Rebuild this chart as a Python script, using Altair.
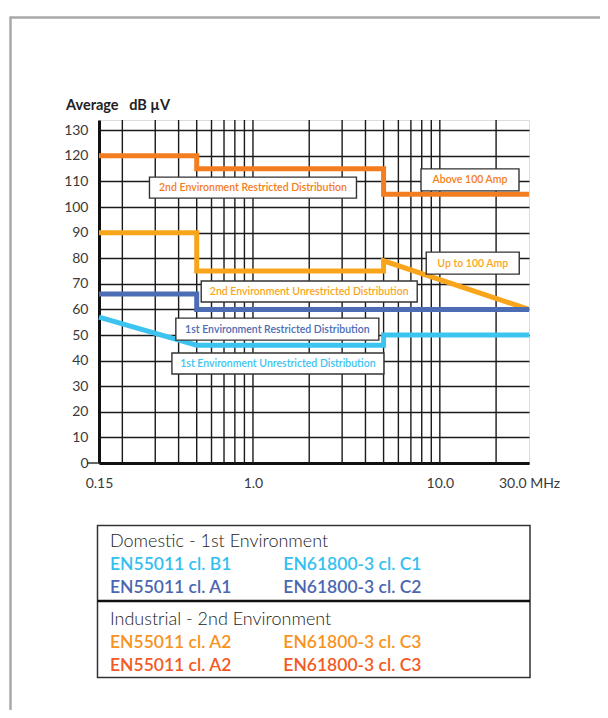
import altair as alt
import pandas as pd

# ---------------- data ----------------
series_names = ["2nd Env Restricted", "2nd Env Unrestricted", "1st Env Restricted", "1st Env Unrestricted"]
s1_freq = [0.15, 0.5, 0.5, 5.0, 5.0, 30.0]
s1_db = [120, 120, 115, 115, 105, 105]
s2_freq = [0.15, 0.5, 0.5, 5.0, 5.0, 30.0]
s2_db = [90, 90, 75, 75, 79, 60]
s3_freq = [0.15, 0.5, 0.5, 30.0]
s3_db = [66, 66, 60, 60]
s4_freq = [0.15, 0.5, 5.0, 5.0, 30.0]
s4_db = [57, 46, 46, 50, 50]
series_colors = ["#F47D20", "#F9A51B", "#4C6CB4", "#3DC3EF"]

x_tick_values = [0.15, 1.0, 10.0, 30.0]
y_tick_values = [0, 10, 20, 30, 40, 50, 60, 70, 80, 90, 100, 110, 120, 130]
x_grid_values = [0.2, 0.3, 0.4, 0.5, 0.6, 0.7, 0.8, 0.9, 1.0,
                 2, 3, 4, 5, 6, 7, 8, 9, 10, 20]

ann_text = ["2nd Environment Restricted Distribution", "Above 100 Amp", "Up to 100 Amp",
            "2nd Environment Unrestricted Distribution", "1st Environment Restricted Distribution",
            "1st Environment Unrestricted Distribution"]
ann_freq = [1.0, 14.5, 15.0, 2.0, 1.35, 1.36]
ann_db = [107.6, 110.6, 78.1, 67.0, 52.3, 38.9]
ann_color = ["#F47D20", "#F47D20", "#F9A51B", "#F9A51B", "#4C6CB4", "#3DC3EF"]

legend_head1 = "Domestic - 1st Environment"
legend_head2 = "Industrial - 2nd Environment"
legend_col1 = ["EN55011 cl. B1", "EN55011 cl. A1", "EN55011 cl. A2", "EN55011 cl. A2"]
legend_col2 = ["EN61800-3 cl. C1", "EN61800-3 cl. C2", "EN61800-3 cl. C3", "EN61800-3 cl. C3"]
legend_colors = ["#33BFF0", "#4A66B0", "#F7931E", "#F15A24"]

# ---------------- tables ----------------
rows = []
for name, fr, db in zip(series_names, [s1_freq, s2_freq, s3_freq, s4_freq], [s1_db, s2_db, s3_db, s4_db]):
    for i, (f, d) in enumerate(zip(fr, db)):
        rows.append({"series": name, "i": i, "freq": f, "db": d})
lines_df = pd.DataFrame(rows)
grid_df = pd.DataFrame({"freq": x_grid_values})
ann_df = pd.DataFrame({"text": ann_text, "freq": ann_freq, "db": ann_db, "color": ann_color})
one = grid_df.iloc[[0]]

W, H = 430, 343
FONT = "Lato"

xscale = alt.Scale(type="log", domain=[0.15, 30], nice=False)
yscale = alt.Scale(domain=[0, 134], nice=False)

xaxis = alt.Axis(values=x_tick_values, grid=False, ticks=False, domainWidth=3, domainColor="#111",
                 labelExpr="datum.value == 0.15 ? '0.15' : (datum.value == 30 ? '30.0 MHz' : format(datum.value, '.1f'))",
                 labelFont=FONT, labelFontSize=14, labelFontWeight="normal", labelColor="#3a3a3a",
                 labelPadding=13, title=None, labelFlush=False, labelOverlap=False)
yaxis = alt.Axis(values=y_tick_values, grid=True, gridColor="#1a1a1a", gridWidth=1.4, ticks=False,
                 domainWidth=3, domainColor="#111", labelFont=FONT, labelFontSize=14,
                 labelFontWeight="normal", labelColor="#3a3a3a",
                 labelPadding=11, title=None, labelFlush=False, labelOverlap=False)

X = alt.X("freq:Q", scale=xscale, axis=xaxis)
Y = alt.Y("db:Q", scale=yscale, axis=yaxis)

vgrid = alt.Chart(grid_df).mark_rule(color="#1a1a1a", strokeWidth=1.4).encode(x=X)

zero_tick = alt.Chart(one).mark_rule(color="#333", strokeWidth=1.5).encode(
    y=alt.datum(0, scale=yscale, axis=yaxis), x=alt.value(-12), x2=alt.value(0)
)

lines = alt.Chart(lines_df).mark_line(strokeWidth=5, strokeJoin="miter", strokeCap="butt").encode(
    x=X, y=Y,
    color=alt.Color("series:N", scale=alt.Scale(domain=series_names, range=series_colors), legend=None),
    order="i:Q",
)

box_w = [207, 98, 93, 216, 203, 212]
box_h = [21, 22, 22, 21, 22, 21]
ann_layers = []
for k in range(len(ann_text)):
    sub = ann_df.iloc[[k]]
    rect = alt.Chart(sub).mark_rect(fill="white", stroke="#333", strokeWidth=1.4,
                                    xOffset=-box_w[k] / 2, x2Offset=box_w[k] / 2,
                                    yOffset=-box_h[k] / 2, y2Offset=box_h[k] / 2).encode(
        x=X, x2="freq:Q", y=Y, y2="db:Q",
    )
    ann_layers.append(rect)
ann_texts = alt.Chart(ann_df).mark_text(font=FONT, fontSize=10.5, fontWeight=600, align="center",
                                        baseline="middle", dy=0.5).encode(
    x=X, y=Y, text="text:N", color=alt.Color("color:N", scale=None),
)

ytitle = alt.Chart(one).mark_text(font=FONT, fontSize=14.5, fontWeight="bold", align="left",
                                  baseline="alphabetic", color="#222").encode(
    x=alt.value(-33), y=alt.value(-10), text=alt.value("Average\u00a0\u00a0\u00a0dB µV")
)

# outer page frame (gray)
frame_top = alt.Chart(one).mark_rule(color="#A9A9AC", strokeWidth=2.5).encode(
    x=alt.value(-89), x2=alt.value(520), y=alt.value(-102.5)
)
frame_left = alt.Chart(one).mark_rule(color="#A9A9AC", strokeWidth=2.5).encode(
    x=alt.value(-88.5), y=alt.value(-103.5), y2=alt.value(600)
)

# legend box
leg_box = alt.Chart(one).mark_rect(fill="white", stroke="#333", strokeWidth=1.5).encode(
    x=alt.value(-1.5), x2=alt.value(431), y=alt.value(405.5), y2=alt.value(557.5)
)
leg_div = alt.Chart(one).mark_rule(color="#111", strokeWidth=2.5).encode(
    x=alt.value(-1.5), x2=alt.value(431), y=alt.value(481)
)
leg_heads = pd.DataFrame({"t": [legend_head1, legend_head2], "y": [427.3, 505]})
leg_head_txt = alt.Chart(leg_heads).mark_text(font=FONT, fontSize=18, fontWeight=300, align="left",
                                               baseline="alphabetic", color="#222").encode(
    x=alt.value(11), y=alt.Y("y:Q", scale=None), text="t:N"
)
leg_rows = pd.DataFrame({"c1": legend_col1, "c2": legend_col2, "color": legend_colors,
                         "y": [450, 472.7, 528.3, 550.7]})
leg_c1 = alt.Chart(leg_rows).mark_text(font=FONT, fontSize=17.5, fontWeight=600, align="left",
                                       baseline="alphabetic").encode(
    x=alt.value(11), y=alt.Y("y:Q", scale=None), text="c1:N", color=alt.Color("color:N", scale=None)
)
leg_c2 = alt.Chart(leg_rows).mark_text(font=FONT, fontSize=17.5, fontWeight=600, align="left",
                                       baseline="alphabetic").encode(
    x=alt.value(184.3), y=alt.Y("y:Q", scale=None), text="c2:N", color=alt.Color("color:N", scale=None)
)

chart = alt.layer(
    vgrid, zero_tick, lines, *ann_layers, ann_texts, ytitle,
    frame_top, frame_left, leg_box, leg_div, leg_head_txt, leg_c1, leg_c2,
).properties(
    width=W, height=H,
    autosize=alt.AutoSizeParams(type="none"),
    padding={"left": 91, "top": 112, "right": 71, "bottom": 247},
).configure_view(stroke="#111", strokeWidth=2).configure(background="white")

chart.save("out.html", embed_options={"renderer": "svg", "actions": False})
